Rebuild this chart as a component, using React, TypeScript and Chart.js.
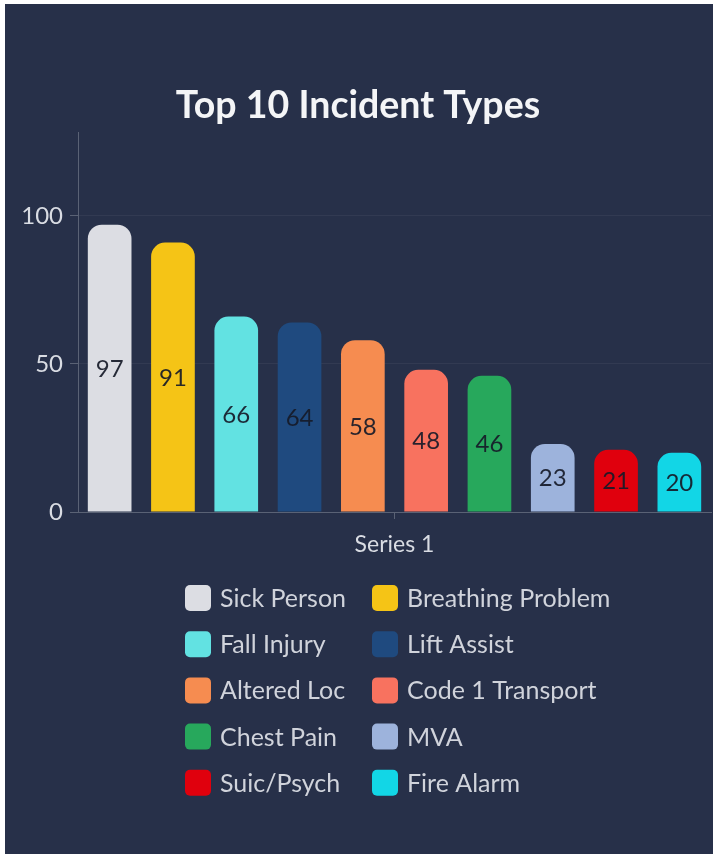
import React, { useEffect, useRef } from 'react';
import { Chart, registerables } from 'chart.js';

Chart.register(...registerables);

// ---- data ----
const categories = ['Series 1'];
const incidentTypes = [
  'Sick Person',
  'Breathing Problem',
  'Fall Injury',
  'Lift Assist',
  'Altered Loc',
  'Code 1 Transport',
  'Chest Pain',
  'MVA',
  'Suic/Psych',
  'Fire Alarm',
];
const incidentCounts = [97, 91, 66, 64, 58, 48, 46, 23, 21, 20];
const barColors = [
  '#dcdde3',
  '#f5c416',
  '#62e2e2',
  '#1f4a7f',
  '#f68c50',
  '#f8725f',
  '#27a85c',
  '#9db3dc',
  '#e0000d',
  '#12d6e6',
];
const yTickValues = [0, 50, 100];
const yMax = 128;
const titleText = 'Top 10 Incident Types';

// ---- styles ----
const BG = '#273049';
const AXIS = '#5a6275';
const TICK_TEXT = '#d9dce3';
const FONT = "Lato, 'Noto Sans', sans-serif";

const LEGEND_COL_X = [180, 367];
const LEGEND_ROW_Y0 = 594;
const LEGEND_ROW_GAP = 46.2;
const LEGEND_BOX = 26;
const LEGEND_TEXT_GAP = 9;

const valueLabelPlugin = {
  id: 'valueLabels',
  afterDatasetsDraw(chart: any) {
    const ctx = chart.ctx;
    ctx.save();
    ctx.font = `24px ${FONT}`;
    ctx.fillStyle = 'rgba(22,26,40,0.92)';
    ctx.textAlign = 'center';
    ctx.textBaseline = 'middle';
    chart.data.datasets.forEach((ds: any, i: number) => {
      const meta = chart.getDatasetMeta(i);
      meta.data.forEach((bar: any, j: number) => {
        const { x, y, base } = bar.getProps(['x', 'y', 'base'], true);
        ctx.fillText(String(ds.data[j]), x, (y + base) / 2 + 1);
      });
    });
    ctx.restore();
  },
};

const gridLegendPlugin = {
  id: 'gridLegend',
  afterDraw(chart: any) {
    const ctx = chart.ctx;
    ctx.save();
    ctx.font = `25px ${FONT}`;
    ctx.textAlign = 'left';
    ctx.textBaseline = 'middle';
    chart.data.datasets.forEach((ds: any, i: number) => {
      const col = i % 2;
      const row = Math.floor(i / 2);
      const bx = LEGEND_COL_X[col];
      const cy = LEGEND_ROW_Y0 + row * LEGEND_ROW_GAP;
      ctx.fillStyle = ds.backgroundColor;
      ctx.beginPath();
      ctx.roundRect(bx, cy - LEGEND_BOX / 2, LEGEND_BOX, LEGEND_BOX, 5);
      ctx.fill();
      ctx.fillStyle = '#d0d3db';
      ctx.fillText(ds.label, bx + LEGEND_BOX + LEGEND_TEXT_GAP, cy + 1);
    });
    ctx.restore();
  },
};

export default function App() {
  const canvasRef = useRef<HTMLCanvasElement | null>(null);

  useEffect(() => {
    if (!canvasRef.current) return;
    Chart.defaults.font.family = FONT;
    const chart = new Chart(canvasRef.current, {
      type: 'bar',
      data: {
        labels: categories,
        datasets: incidentTypes.map((name, i) => ({
          label: name,
          data: [incidentCounts[i]],
          backgroundColor: barColors[i],
          borderWidth: 0,
          borderRadius: 14,
          borderSkipped: 'start',
          categoryPercentage: 1,
          barPercentage: 0.69,
        })),
      },
      options: {
        responsive: false,
        animation: false,
        devicePixelRatio: 1,
        layout: { padding: { top: 82, left: 0, right: 2, bottom: 292 } },
        plugins: {
          legend: { display: false },
          tooltip: { enabled: false },
          title: {
            display: true,
            text: titleText,
            color: '#f4f5f7',
            font: { size: 37.5, weight: 'bold', family: FONT, lineHeight: 1.05 },
            padding: { top: 0, bottom: 7.6 },
          },
        },
        scales: {
          x: {
            grid: {
              display: true,
              drawOnChartArea: false,
              offset: false,
              tickLength: 7,
              tickColor: AXIS,
              color: AXIS,
            },
            border: { display: true, color: AXIS, width: 1 },
            ticks: { color: TICK_TEXT, font: { size: 23, family: FONT }, padding: 12 },
            afterFit: (s: any) => {
              s.height = 50;
            },
          },
          y: {
            min: 0,
            max: yMax,
            afterBuildTicks: (s: any) => {
              s.ticks = yTickValues.map((v) => ({ value: v }));
            },
            grid: {
              color: 'rgba(255,255,255,0.05)',
              tickLength: 8,
              tickColor: AXIS,
            },
            border: { display: true, color: AXIS, width: 1 },
            ticks: { color: TICK_TEXT, font: { size: 24, family: FONT }, padding: 7 },
            afterFit: (s: any) => {
              s.width = 73;
            },
          },
        },
      },
      plugins: [valueLabelPlugin, gridLegendPlugin],
    });
    if ((document as any).fonts && (document as any).fonts.ready) {
      (document as any).fonts.ready.then(() => chart.update());
    }
    return () => chart.destroy();
  }, []);

  return (
    <div
      style={{
        position: 'absolute',
        left: 0,
        top: 0,
        width: 713,
        height: 854,
        background: '#ffffff',
        overflow: 'hidden',
      }}
    >
      <div
        style={{
          position: 'absolute',
          left: 5,
          top: 4,
          width: 708,
          height: 850,
          background: BG,
        }}
      >
        <canvas ref={canvasRef} width={708} height={850} />
      </div>
    </div>
  );
}
